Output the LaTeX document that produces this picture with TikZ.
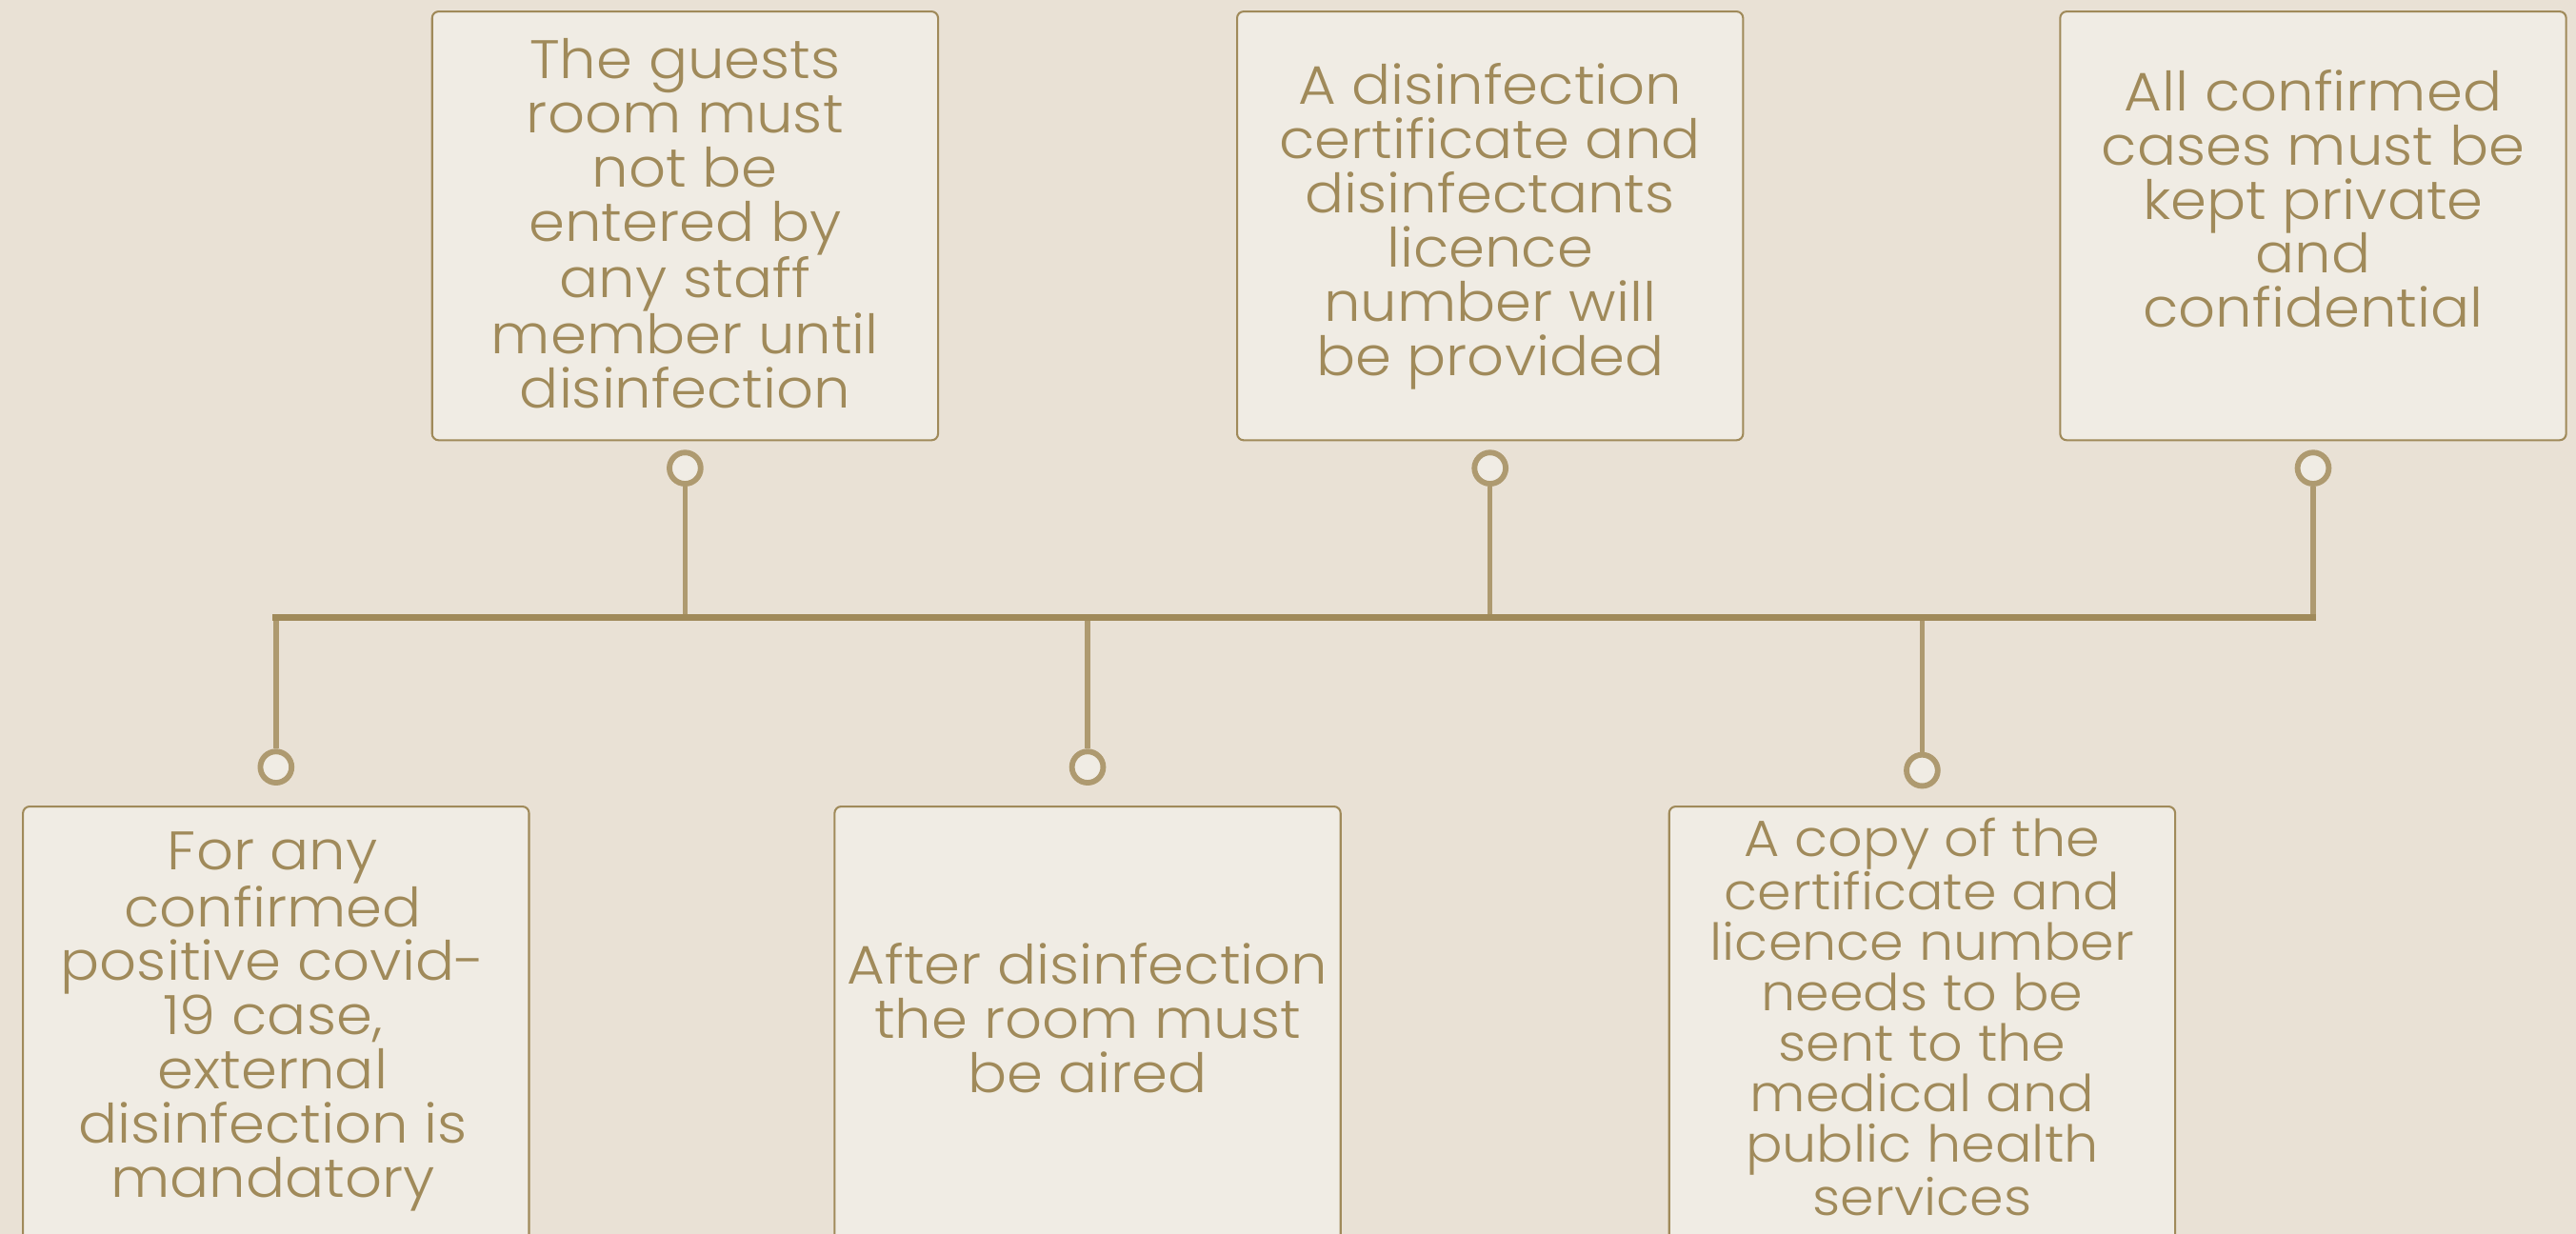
\documentclass[tikz,border=0pt]{standalone}
\usepackage{fontspec}
\IfFontExistsTF{Poppins Light}{\setmainfont{Poppins Light}[FakeStretch=1.07]}{\setmainfont{Poppins}[FakeStretch=1.07]}
\definecolor{bg}{HTML}{E9E1D5}
\definecolor{boxfill}{HTML}{F0ECE4}
\definecolor{gold}{HTML}{A08A5A}
\definecolor{lgold}{HTML}{AE9A70}
\tikzset{
  card/.style={draw=gold, line width=1.2pt, fill=boxfill, rounded corners=4pt},
  txt/.style={text=gold, align=center, inner sep=0pt, font=\fontsize{33}{33}\selectfont},
  dot/.style={circle, draw=lgold, line width=3.4pt, fill=boxfill, minimum size=19pt, inner sep=0pt},
  bus/.style={draw=gold, line width=4pt},
  stem/.style={draw=lgold, line width=3.2pt}
}
\begin{document}
\begin{tikzpicture}[x=1pt,y=-1pt]
\useasboundingbox (0,0) rectangle (1568,751);
\fill[bg] (0,0) rectangle (1568,751);
\clip (0,0) rectangle (1568,751);
% top cards
\draw[card] (263,7) rectangle (571,268);
\draw[card] (753,7) rectangle (1061,268);
\draw[card] (1254,7) rectangle (1562,268);
% bottom cards
\draw[card] (14,491) rectangle (322,775);
\draw[card] (508,491) rectangle (816,775);
\draw[card] (1016,491) rectangle (1324,775);
% texts
\node[txt] (t1) at (417,136) {The guests\\room must\\not be\\entered by\\any staff\\member until\\disinfection};
\node[txt] (t2) at (907,138) {A disinfection\\certificate and\\disinfectants\\licence\\number will\\be provided};
\node[txt] (t3) at (1408,121) {All confirmed\\cases must be\\kept private\\and\\confidential};
\node[txt] (b1) at (166,622) {For any\\confirmed\\positive covid-\\19 case,\\external\\disinfection is\\mandatory};
\node[txt] (b2) at (662,620) {After disinfection\\the room must\\be aired};
\node[txt, font=\fontsize{31}{30.8}\selectfont] (b3) at (1170,619) {A copy of the\\certificate and\\licence number\\needs to be\\sent to the\\medical and\\public health\\services};
% circles
\node[dot] (c1) at (417,285) {};
\node[dot] (c2) at (907,285) {};
\node[dot] (c3) at (1408,285) {};
\node[dot] (d1) at (168,467) {};
\node[dot] (d2) at (662,467) {};
\node[dot] (d3) at (1170,469) {};
% junctions
\coordinate (jl) at (166,376);
\coordinate (jr) at (1410,376);
\coordinate (j1) at (417,376);
\coordinate (j2) at (907,376);
\coordinate (j3) at (1408,376);
\coordinate (k1) at (168,376);
\coordinate (k2) at (662,376);
\coordinate (k3) at (1170,376);
\draw[stem] (c1.south) -- (j1);
\draw[stem] (c2.south) -- (j2);
\draw[stem] (c3.south) -- (j3);
\draw[stem] (k1) -- (d1.north);
\draw[stem] (k2) -- (d2.north);
\draw[stem] (k3) -- (d3.north);
\draw[bus] (jl) -- (jr);
\end{tikzpicture}
\end{document}
